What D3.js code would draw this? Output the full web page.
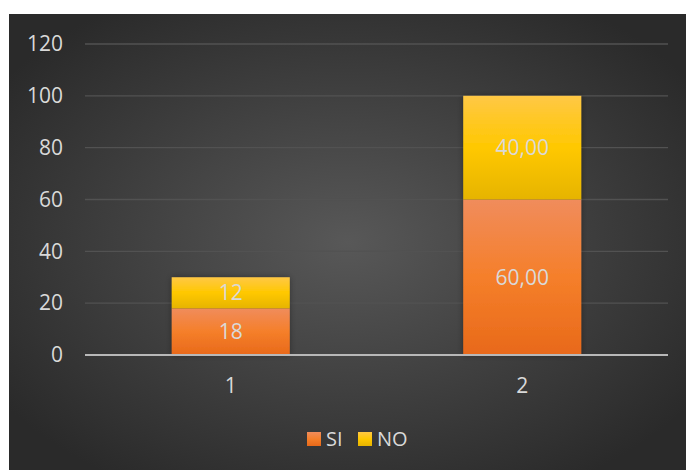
<!DOCTYPE html>
<html>
<head>
<meta charset="utf-8">
<script src="https://cdn.jsdelivr.net/npm/d3@7"></script>
<style>
  body { margin: 0; background: #fff; }
  svg { display: block; }
</style>
</head>
<body>
<div id="chart"></div>
<script>
// Chart data
const categories = ["1", "2"];
const siValues = [18, 60];
const noValues = [12, 40];
const siLabels = ["18", "60,00"];
const noLabels = ["12", "40,00"];
const yTicks = [0, 20, 40, 60, 80, 100, 120];

const WIDTH = 686;
const HEIGHT = 470;
const FONT = "'Open Sans', 'Liberation Sans', sans-serif";
const FONT_SIZE = "21px";
const TEXT_COLOUR = "#d9d9d9";

let svg = d3.select("#chart")
            .append("svg")
            .attr("width", WIDTH)
            .attr("height", HEIGHT);

let defs = svg.append("defs");

// background gradient
let bg = defs.append("radialGradient")
             .attr("id", "bg")
             .attr("cx", "50%").attr("cy", "50%").attr("r", "62%");
bg.append("stop").attr("offset", "0%").attr("stop-color", "#585858");
bg.append("stop").attr("offset", "100%").attr("stop-color", "#2a2a2a");

// bar gradients
function barGradient(id, stops) {
    let g = defs.append("linearGradient")
                .attr("id", id)
                .attr("x1", 0).attr("y1", 0).attr("x2", 0).attr("y2", 1);
    stops.forEach(s => g.append("stop").attr("offset", s[0]).attr("stop-color", s[1]));
}
barGradient("gradSI", [["0%", "#f08c5c"], ["50%", "#f57f2a"], ["100%", "#e8691a"]]);
barGradient("gradNO", [["0%", "#ffc845"], ["50%", "#ffc800"], ["100%", "#e6b400"]]);

let shadow = defs.append("filter").attr("id", "shadow")
                 .attr("x", "-20%").attr("y", "-20%").attr("width", "140%").attr("height", "140%");
shadow.append("feDropShadow")
      .attr("dx", 0).attr("dy", 0).attr("stdDeviation", 3)
      .attr("flood-color", "#000").attr("flood-opacity", 0.35);

svg.append("rect")
   .attr("x", 9).attr("y", 14)
   .attr("width", WIDTH - 9).attr("height", HEIGHT - 14)
   .attr("fill", "url(#bg)");

// scales
let x = d3.scaleBand()
          .domain(categories)
          .range([85, 668])
          .paddingInner(0.595)
          .paddingOuter(0.2975);

let y = d3.scaleLinear()
          .domain([0, 120])
          .range([355, 44]);

// gridlines
svg.append("g")
   .selectAll("line")
   .data(yTicks.filter(d => d > 0))
   .join("line")
   .attr("x1", 85).attr("x2", 668)
   .attr("y1", d => y(d)).attr("y2", d => y(d))
   .attr("stroke", "#525252")
   .attr("stroke-width", 1.3);

// y axis labels
let yAxis = d3.axisLeft(y).tickValues(yTicks).tickSize(0).tickPadding(0);
let yG = svg.append("g")
            .attr("transform", "translate(63,0)")
            .call(yAxis);
yG.select(".domain").remove();
yG.selectAll("text")
  .attr("fill", TEXT_COLOUR)
  .style("font-family", FONT)
  .style("font-size", FONT_SIZE);

// stacked bars
let stacked = categories.map((c, i) => ({cat: c, si: siValues[i], no: noValues[i], siLabel: siLabels[i], noLabel: noLabels[i]}));

let bars = svg.append("g").attr("filter", "url(#shadow)");
bars.selectAll("rect.si")
    .data(stacked)
    .join("rect")
    .attr("class", "si")
    .attr("x", d => x(d.cat))
    .attr("width", x.bandwidth())
    .attr("y", d => y(d.si))
    .attr("height", d => y(0) - y(d.si))
    .attr("fill", "url(#gradSI)");
bars.selectAll("rect.no")
    .data(stacked)
    .join("rect")
    .attr("class", "no")
    .attr("x", d => x(d.cat))
    .attr("width", x.bandwidth())
    .attr("y", d => y(d.si + d.no))
    .attr("height", d => y(d.si) - y(d.si + d.no))
    .attr("fill", "url(#gradNO)");

// x axis
let xAxis = d3.axisBottom(x).tickSize(0).tickPadding(0);
let xG = svg.append("g")
            .attr("transform", `translate(0,${y(0)})`)
            .call(xAxis);
xG.select(".domain")
  .attr("stroke", "#b8b8b8")
  .attr("stroke-width", 2)
  .attr("d", "M85,0H668");
xG.selectAll("text")
  .attr("fill", TEXT_COLOUR)
  .attr("dy", 0)
  .attr("y", 38)
  .style("font-family", FONT)
  .style("font-size", FONT_SIZE);

// data labels
let labels = svg.append("g")
                .attr("fill", TEXT_COLOUR)
                .attr("text-anchor", "middle")
                .style("font-family", FONT)
                .style("font-size", FONT_SIZE);
labels.selectAll("text.si")
      .data(stacked)
      .join("text")
      .attr("x", d => x(d.cat) + x.bandwidth() / 2)
      .attr("y", d => y(d.si / 2))
      .attr("dy", "0.35em")
      .text(d => d.siLabel);
labels.selectAll("text.no")
      .data(stacked)
      .join("text")
      .attr("x", d => x(d.cat) + x.bandwidth() / 2)
      .attr("y", d => y(d.si + d.no / 2))
      .attr("dy", "0.35em")
      .text(d => d.noLabel);

// legend
const legendItems = [
    {name: "SI", fill: "url(#gradSI)", x: 307},
    {name: "NO", fill: "url(#gradNO)", x: 358}
];
let legend = svg.append("g");
let item = legend.selectAll("g")
                 .data(legendItems)
                 .join("g")
                 .attr("transform", d => `translate(${d.x},432)`);
item.append("rect")
    .attr("width", 14).attr("height", 14)
    .attr("fill", d => d.fill);
item.append("text")
    .attr("x", 19).attr("y", 7)
    .attr("dy", "0.35em")
    .attr("fill", TEXT_COLOUR)
    .style("font-family", FONT)
    .style("font-size", "20px")
    .text(d => d.name);
</script>
</body>
</html>
